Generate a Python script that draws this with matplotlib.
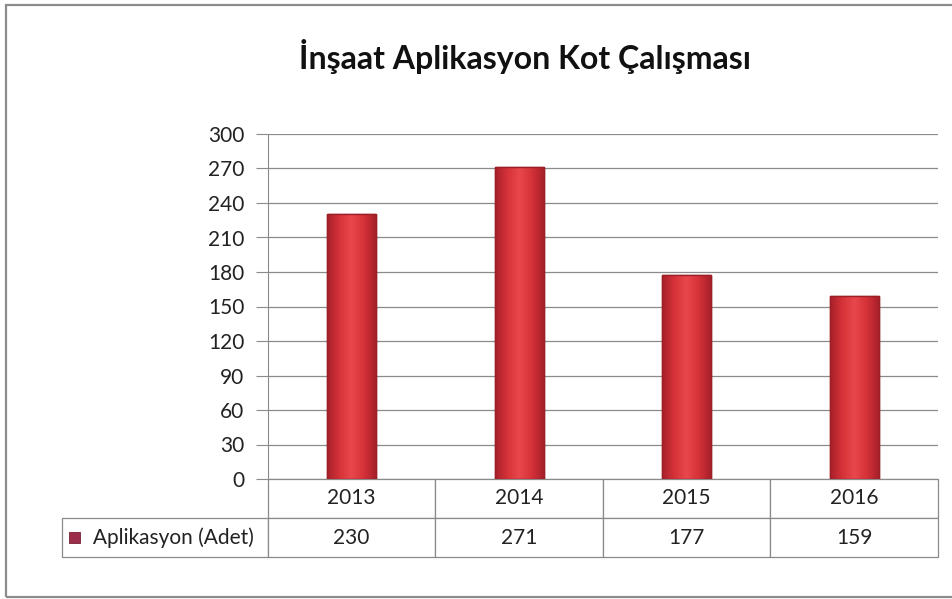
import numpy as np
import matplotlib.pyplot as plt
from matplotlib.patches import Rectangle
from matplotlib.colors import LinearSegmentedColormap

plt.rcParams['font.family'] = ['Lato', 'DejaVu Sans']

years = ['2013', '2014', '2015', '2016']
values = [230, 271, 177, 159]
series_name = 'Aplikasyon (Adet)'
title = 'İnşaat Aplikasyon Kot Çalışması'

fig = plt.figure(figsize=(9.52, 5.99), dpi=100)
fig.patch.set_facecolor('white')

# outer chart frame
fig.add_artist(Rectangle((0.006, 0.004), 1.0, 0.988, transform=fig.transFigure,
                         fill=False, edgecolor='#8c8c8c', lw=1.6))

ax = fig.add_axes([268/952, 1-479/599, 670/952, 345/599])
x = np.arange(len(years))
bars = ax.bar(x, values, width=0.29, color='#d7333b', edgecolor='#a3222a', lw=1.0, zorder=3)

# shade each bar like the old office 3d-ish fill
cmap = LinearSegmentedColormap.from_list('barfill', ['#a8212a', '#d63239', '#e8484b', '#d63239', '#a8212a'])
grad = np.linspace(0, 1, 64).reshape(1, -1)
for b in bars:
    x0, w, h = b.get_x(), b.get_width(), b.get_height()
    im = ax.imshow(grad, cmap=cmap, extent=(x0, x0 + w, 0, h), aspect='auto', zorder=3.5)
    im.set_clip_path(b)
    ax.add_patch(Rectangle((x0, 0), w, h, fill=False, edgecolor='#9c1f27', lw=1.0, zorder=4))

ax.set_xlim(-0.5, len(years)-0.5)
ax.set_ylim(0, 300)
ax.set_yticks(np.arange(0, 301, 30))
ax.yaxis.grid(True, color='#8a8a8a', lw=0.9)
ax.set_axisbelow(True)
ax.set_xticks([])
for s in ['top', 'right', 'bottom']:
    ax.spines[s].set_visible(False)
ax.spines['left'].set_color('#8a8a8a')
ax.tick_params(axis='y', length=9, color='#8a8a8a', labelsize=15,
               labelcolor='#222222', pad=8)

# data table under the plot
label_w = 206/670
row_h = 78/345
cells = [[''] + years, ['     ' + series_name] + [str(v) for v in values]]
tbl = ax.table(cellText=cells, cellLoc='center',
               colWidths=[206] + [168]*len(years),
               bbox=[-label_w, -row_h, 1 + label_w, row_h])
tbl.auto_set_font_size(False)
for (r, c), cell in tbl.get_celld().items():
    cell.set_edgecolor('#8a8a8a')
    cell.set_linewidth(0.9)
    cell.get_text().set_fontsize(15)
    cell.get_text().set_color('#222222')
    if r == 0 and c == 0:
        cell.visible_edges = ''
    if r == 1 and c == 0:
        cell.get_text().set_ha('left')
        cell.PAD = 0.02
tbl[1, 0]._loc = 'left'

# legend key square in the table
fig.add_artist(Rectangle((69/952, 1-543/599), 11/952, 11/599, transform=fig.transFigure,
                         facecolor='#9b2e48', edgecolor='#7a1f35', lw=0.6))

fig.text(525/952, 1-57/599, title, ha='center', va='center', fontsize=23,
         fontweight='bold', color='#111111')

fig.savefig('out.png', dpi=100)
